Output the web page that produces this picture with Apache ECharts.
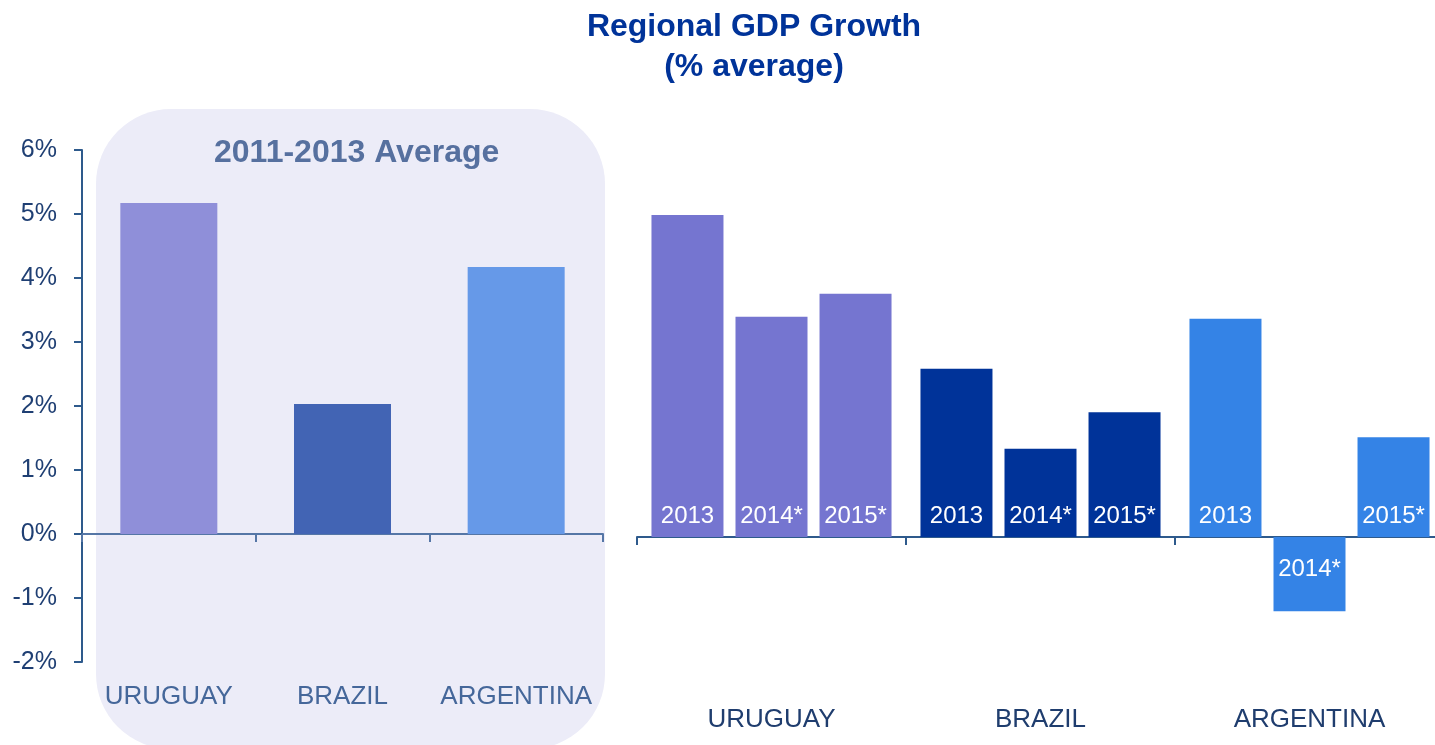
<!DOCTYPE html>
<html>
<head>
<meta charset="utf-8">
<script src="https://cdn.jsdelivr.net/npm/echarts@6/dist/echarts.min.js"></script>
<style>
  html, body { margin: 0; padding: 0; background: #fff; }
  #mainChart { width: 1435px; height: 745px; }
</style>
</head>
<body>
<div id="mainChart"></div>
<script type="text/javascript">
// data
var countries = ['URUGUAY', 'BRAZIL', 'ARGENTINA'];
var avg2011_2013 = [5.17, 2.03, 4.17];
var years = ['2013', '2014*', '2015*'];
var gdp2013 = [5.03, 2.63, 3.41];
var gdp2014 = [3.44, 1.38, -1.16];
var gdp2015 = [3.80, 1.95, 1.56];

var avgColors = ['#8f8fd9', '#4264b4', '#6699e8'];
var yearColors = ['#7575d0', '#003399', '#3483e6'];

var myChart = echarts.init(document.getElementById('mainChart'));

function yearSeries(name, values) {
    return {
        name: name,
        type: 'bar',
        xAxisIndex: 1,
        yAxisIndex: 1,
        barWidth: 72,
        barGap: '16.7%',
        data: values.map(function (v, i) {
            return {
                value: v,
                itemStyle: { color: yearColors[i] },
                label: v < 0 ? { position: 'insideTop', distance: 20 } : {}
            };
        }),
        label: {
            show: true,
            position: 'insideBottom',
            distance: 9,
            formatter: name,
            color: '#fff',
            fontSize: 24,
            fontFamily: 'Liberation Sans'
        }
    };
}

var options = {
    animation: false,
    textStyle: { fontFamily: 'Liberation Sans' },
    title: {
        text: 'Regional GDP Growth\n(% average)',
        left: 749,
        top: 2,
        textAlign: 'center',
        textStyle: {
            fontFamily: 'Liberation Sans',
            fontSize: 32,
            fontWeight: 'bold',
            color: '#003399',
            lineHeight: 40
        }
    },
    graphic: [{
        type: 'rect',
        z: -10,
        shape: { x: 96, y: 109, width: 509, height: 640, r: 75 },
        style: { fill: '#ececf8' }
    }, {
        type: 'text',
        z: 10,
        left: 214,
        top: 137,
        style: {
            text: '2011-2013 Average',
            font: 'bold 32px "Liberation Sans"',
            fill: '#56709f'
        }
    }],
    grid: [
        { left: 82, top: 150, width: 521, height: 512, outerBoundsMode: 'none', containLabel: false },
        { left: 637, top: 153, width: 807, height: 512, outerBoundsMode: 'none', containLabel: false }
    ],
    xAxis: [{
        type: 'category',
        gridIndex: 0,
        data: countries,
        axisLine: { show: true, onZero: true, lineStyle: { color: '#5576a6', width: 2 } },
        axisTick: { show: true, length: 8, lineStyle: { color: '#5576a6', width: 2 } },
        axisLabel: { interval: 0, margin: 22, fontSize: 26, color: '#45679a' }
    }, {
        type: 'category',
        gridIndex: 1,
        data: countries,
        axisLine: { show: true, onZero: true, lineStyle: { color: '#2e5a8c', width: 2 } },
        axisTick: { show: true, length: 8, lineStyle: { color: '#2e5a8c', width: 2 } },
        axisLabel: { interval: 0, margin: 42, fontSize: 26, color: '#1f3d6e' }
    }],
    yAxis: [{
        type: 'value',
        gridIndex: 0,
        min: -2,
        max: 6,
        interval: 1,
        splitLine: { show: false },
        axisLine: { show: true, lineStyle: { color: '#2e5a8c', width: 2 } },
        axisTick: { show: true, length: 8, lineStyle: { color: '#2e5a8c', width: 2 } },
        axisLabel: {
            margin: 25,
            fontSize: 25,
            color: '#1f3f73',
            formatter: function (v) { return v + '%'; }
        }
    }, {
        type: 'value',
        gridIndex: 1,
        min: -2,
        max: 6,
        interval: 1,
        show: false,
        splitLine: { show: false }
    }],
    series: [{
        name: '2011-2013 Average',
        type: 'bar',
        xAxisIndex: 0,
        yAxisIndex: 0,
        barWidth: 97,
        data: avg2011_2013.map(function (v, i) {
            return { value: v, itemStyle: { color: avgColors[i] } };
        })
    },
        yearSeries(years[0], gdp2013),
        yearSeries(years[1], gdp2014),
        yearSeries(years[2], gdp2015)
    ]
};

myChart.setOption(options);
</script>
</body>
</html>
